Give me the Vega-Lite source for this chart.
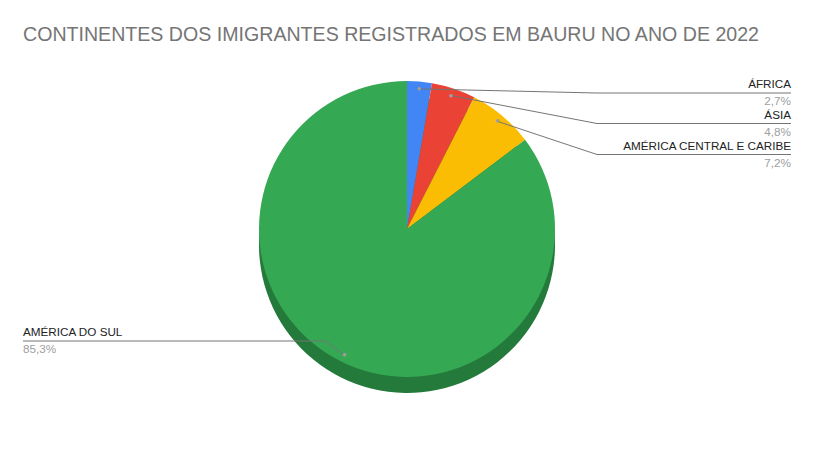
{
  "$schema": "https://vega.github.io/schema/vega-lite/v6.json",
  "width": 814,
  "height": 451,
  "autosize": "none",
  "padding": 0,
  "background": "white",
  "config": {
    "view": {"stroke": null},
    "locale": {"number": {"decimal": ",", "thousands": ".", "grouping": [3], "currency": ["R$", ""]}},
    "rule": {"color": "#757575", "strokeWidth": 1},
    "text": {"font": "Liberation Sans", "fontSize": 11.7, "baseline": "alphabetic"}
  },
  "title": {
    "text": "CONTINENTES DOS IMIGRANTES REGISTRADOS EM BAURU NO ANO DE 2022",
    "anchor": "start",
    "frame": "group",
    "orient": "top",
    "offset": 0,
    "dx": 23,
    "dy": 61,
    "baseline": "alphabetic",
    "font": "Liberation Sans",
    "fontSize": 19.6,
    "fontWeight": "normal",
    "color": "#757575"
  },
  "data": {
    "values": [
      {"continente": "ÁFRICA", "participacao": 0.027},
      {"continente": "ÁSIA", "participacao": 0.048},
      {"continente": "AMÉRICA CENTRAL E CARIBE", "participacao": 0.072},
      {"continente": "AMÉRICA DO SUL", "participacao": 0.853}
    ]
  },
  "layer": [
    {
      "mark": {"type": "arc", "outerRadius": 148, "x": 407, "y": 245, "color": "#247A3B"},
      "encoding": {
        "theta": {"field": "participacao", "type": "quantitative", "stack": true},
        "order": {"field": "participacao", "type": "quantitative"}
      }
    },
    {
      "mark": {"type": "arc", "outerRadius": 148, "x": 407, "y": 229},
      "encoding": {
        "theta": {"field": "participacao", "type": "quantitative", "stack": true},
        "order": {"field": "participacao", "type": "quantitative"},
        "color": {
          "field": "continente",
          "type": "nominal",
          "legend": null,
          "scale": {
            "domain": ["ÁFRICA", "ÁSIA", "AMÉRICA CENTRAL E CARIBE", "AMÉRICA DO SUL"],
            "range": ["#4285F4", "#EA4335", "#FBBC04", "#34A853"]
          }
        }
      }
    },
    {
      "transform": [{"filter": "datum.continente === 'ÁFRICA'"}],
      "mark": {"type": "rule"},
      "encoding": {"x": {"value": 418.9}, "y": {"value": 88.9}, "x2": {"value": 597}, "y2": {"value": 93}}
    },
    {
      "transform": [{"filter": "datum.continente === 'ÁSIA'"}],
      "mark": {"type": "rule"},
      "encoding": {"x": {"value": 451.3}, "y": {"value": 95.6}, "x2": {"value": 597}, "y2": {"value": 123.5}}
    },
    {
      "transform": [{"filter": "datum.continente === 'AMÉRICA CENTRAL E CARIBE'"}],
      "mark": {"type": "rule"},
      "encoding": {"x": {"value": 497.3}, "y": {"value": 121.3}, "x2": {"value": 597}, "y2": {"value": 154.5}}
    },
    {
      "transform": [{"filter": "datum.continente === 'ÁFRICA'"}],
      "mark": {"type": "rule"},
      "encoding": {"x": {"value": 597}, "x2": {"value": 791}, "y": {"value": 93}}
    },
    {
      "transform": [{"filter": "datum.continente === 'ÁSIA'"}],
      "mark": {"type": "rule"},
      "encoding": {"x": {"value": 597}, "x2": {"value": 791}, "y": {"value": 123.5}}
    },
    {
      "transform": [{"filter": "datum.continente === 'AMÉRICA CENTRAL E CARIBE'"}],
      "mark": {"type": "rule"},
      "encoding": {"x": {"value": 597}, "x2": {"value": 791}, "y": {"value": 154.5}}
    },
    {
      "transform": [{"filter": "datum.continente === 'AMÉRICA DO SUL'"}],
      "mark": {"type": "rule"},
      "encoding": {"x": {"value": 23}, "x2": {"value": 325}, "y": {"value": 341}}
    },
    {
      "transform": [{"filter": "datum.continente === 'AMÉRICA DO SUL'"}],
      "mark": {"type": "rule"},
      "encoding": {"x": {"value": 325}, "y": {"value": 341}, "x2": {"value": 344.3}, "y2": {"value": 354.9}}
    },
    {
      "mark": {"type": "text", "text": "●", "x": 407, "y": 229, "fontSize": 8, "color": "#9E9E9E", "align": "center", "baseline": "middle"},
      "encoding": {
        "theta": {"field": "participacao", "type": "quantitative", "stack": true},
        "order": {"field": "participacao", "type": "quantitative"},
        "radius": {"value": 140.6}
      }
    },
    {
      "transform": [{"filter": "datum.continente === 'ÁFRICA'"}],
      "mark": {"type": "text", "align": "right", "color": "#222222"},
      "encoding": {"text": {"field": "continente", "type": "nominal"}, "x": {"value": 791}, "y": {"value": 88}}
    },
    {
      "transform": [{"filter": "datum.continente === 'ÁFRICA'"}],
      "mark": {"type": "text", "align": "right", "color": "#9E9E9E"},
      "encoding": {"text": {"field": "participacao", "type": "quantitative", "format": ".1%"}, "x": {"value": 791}, "y": {"value": 105}}
    },
    {
      "transform": [{"filter": "datum.continente === 'ÁSIA'"}],
      "mark": {"type": "text", "align": "right", "color": "#222222"},
      "encoding": {"text": {"field": "continente", "type": "nominal"}, "x": {"value": 791}, "y": {"value": 119}}
    },
    {
      "transform": [{"filter": "datum.continente === 'ÁSIA'"}],
      "mark": {"type": "text", "align": "right", "color": "#9E9E9E"},
      "encoding": {"text": {"field": "participacao", "type": "quantitative", "format": ".1%"}, "x": {"value": 791}, "y": {"value": 135.5}}
    },
    {
      "transform": [{"filter": "datum.continente === 'AMÉRICA CENTRAL E CARIBE'"}],
      "mark": {"type": "text", "align": "right", "color": "#222222"},
      "encoding": {"text": {"field": "continente", "type": "nominal"}, "x": {"value": 791}, "y": {"value": 150}}
    },
    {
      "transform": [{"filter": "datum.continente === 'AMÉRICA CENTRAL E CARIBE'"}],
      "mark": {"type": "text", "align": "right", "color": "#9E9E9E"},
      "encoding": {"text": {"field": "participacao", "type": "quantitative", "format": ".1%"}, "x": {"value": 791}, "y": {"value": 166.5}}
    },
    {
      "transform": [{"filter": "datum.continente === 'AMÉRICA DO SUL'"}],
      "mark": {"type": "text", "align": "left", "color": "#222222"},
      "encoding": {"text": {"field": "continente", "type": "nominal"}, "x": {"value": 23}, "y": {"value": 336}}
    },
    {
      "transform": [{"filter": "datum.continente === 'AMÉRICA DO SUL'"}],
      "mark": {"type": "text", "align": "left", "color": "#9E9E9E"},
      "encoding": {"text": {"field": "participacao", "type": "quantitative", "format": ".1%"}, "x": {"value": 23}, "y": {"value": 353}}
    }
  ]
}
